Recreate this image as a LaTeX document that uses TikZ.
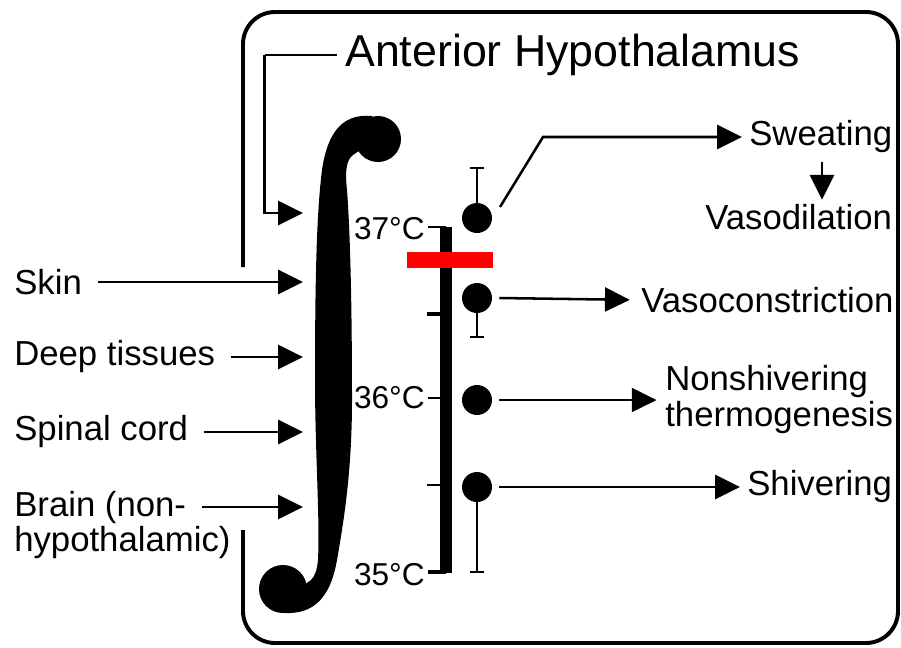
\documentclass[tikz,border=0pt]{standalone}
\usepackage{fontspec}
\setmainfont{Liberation Sans}
\usetikzlibrary{arrows.meta,calc}
\tikzset{
  lbl/.style={font=\fontsize{24.7}{25.6}\selectfont, inner sep=0pt, anchor=west},
  biglbl/.style={font=\fontsize{31.8}{36}\selectfont, inner sep=0pt, anchor=west},
  templbl/.style={font=\fontsize{22.5}{26}\selectfont, inner sep=0pt, anchor=east},
  dot/.style={circle, fill=black, minimum size=0.75cm, inner sep=0pt},
  arr/.style={line width=1.8pt, -{Triangle[length=0.62cm,width=0.6cm]}},
  errbar/.style={line width=1pt},
  tick/.style={line width=1.4pt},
  frame/.style={line width=2.8pt, rounded corners=0.8cm},
}

\begin{document}
\begin{tikzpicture}[x=0.025cm,y=-0.025cm]
\useasboundingbox (0,0) rectangle (901,647);
% outer frame
\draw[frame] (243,267) -- (243,12) -- (898,12) -- (898,643) -- (243,643) -- (243,530);

% integral sign
\fill (372,116) .. controls (340,113) and (327,136) .. (322,170)
  .. controls (317,210) and (315,270) .. (315,380)
  .. controls (315,450) and (320,520) .. (318,560)
  .. controls (317,570) and (315,576) .. (311,580)
  -- (290,595) -- (285,613)
  .. controls (312,614) and (330,600) .. (337,560)
  .. controls (344,520) and (352,470) .. (352,400)
  .. controls (352,300) and (350,230) .. (347,190)
  .. controls (345,172) and (346,160) .. (353,155)
  -- (372,142) -- cycle;
\fill (378,139) circle[radius=23];
\fill (283,589) circle[radius=24];
\coordinate (ahin) at (303,213);
\coordinate (skinin) at (303,282);
\coordinate (deepin) at (303,357);
\coordinate (spinein) at (303,432);
\coordinate (brainin) at (303,507);

% inputs
\node[biglbl] (ah) at (345,55) {Anterior Hypothalamus};
\node[lbl] (skin) at (14,282) {Skin};
\node[lbl] (deep) at (14,357) {Deep tissues};
\node[lbl] (spine) at (14,432) {Spinal cord};
\node[lbl] (brain) at (14,507) {Brain (non-};
\node[lbl] (brain2) at (14,543) {hypothalamic)};
\draw[line width=1.8pt] ([xshift=-6pt]ah.west) -- ++(-72,0) coordinate (ahbend);
\draw[arr] (ahbend) |- (ahin);
\draw[arr] ([xshift=11pt]skin.east) -- (skinin);
\draw[arr] ([xshift=11pt]deep.east) -- (deepin);
\draw[arr] ([xshift=11pt]spine.east) -- (spinein);
\draw[arr] ([xshift=11pt]brain.east) -- (brainin);

% temperature scale
\draw[line width=8.5pt] (446,227) -- (446,573);
\node[templbl] (t37) at (425,229) {37°C};
\node[templbl] (t36) at (425,398) {36°C};
\node[templbl] (t35) at (425,575) {35°C};
\draw[tick] ([xshift=2pt]t37.east |- 0,227) -- (446,227);
\draw[tick] ([xshift=2pt]t36.east |- 0,398) -- (446,398);
\draw[line width=2.4pt] ([xshift=2pt]t35.east |- 0,572) -- (446,572);
\draw[line width=2.4pt] (427,314) -- (446,314);
\draw[tick] (427,485) -- (446,485);
\fill[red] (407,252) rectangle (493,268);

% thresholds
\node[dot] (d1) at (477,218) {};
\node[dot] (d2) at (477,298) {};
\node[dot] (d3) at (477,400) {};
\node[dot] (d4) at (477,487) {};
\draw[errbar] (d1.center) -- (477,168) (470,168) -- (484,168);
\draw[errbar] (d2.center) -- (477,337) (470,337) -- (484,337);
\draw[errbar] (d4.center) -- (477,572) (470,572) -- (484,572);

% responses
\node[lbl] (sweat) at (749,137) {Sweating};
\node[lbl] (vasod) at (705,217) {Vasodilation};
\node[lbl] (vasoc) at (641,300) {Vasoconstriction};
\node[lbl, align=left] (nst) at (665,400) {Nonshivering\\thermogenesis};
\node[lbl] (shiv) at (747,487) {Shivering};
\draw[arr, shorten >=5pt] (d1) ++(23,-11) -- ++(43,-70) -- (sweat.west);
\draw[arr, shorten <=6pt, shorten >=3pt] (sweat.south -| 822,0) -- (vasod.north -| 822,0);
\draw[arr, shorten >=8pt] ([xshift=5pt]d2.east) -- (vasoc.west);
\draw[arr, shorten >=6pt] ([xshift=5pt]d3.east) -- (nst.west);
\draw[arr, shorten >=5pt] ([xshift=5pt]d4.east) -- (shiv.west);
\end{tikzpicture}
\end{document}
